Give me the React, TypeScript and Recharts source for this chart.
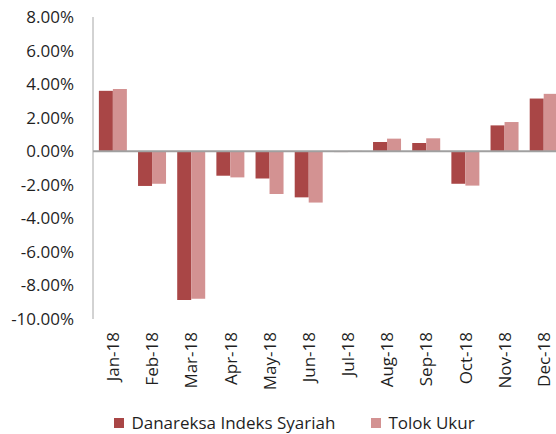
import { BarChart, Bar, XAxis, YAxis, Legend, ReferenceLine } from "recharts";

const months = ["Jan-18", "Feb-18", "Mar-18", "Apr-18", "May-18", "Jun-18", "Jul-18", "Aug-18", "Sep-18", "Oct-18", "Nov-18", "Dec-18"];
const danareksa = [3.6, -2.07, -8.87, -1.46, -1.62, -2.75, -0.05, 0.55, 0.49, -1.94, 1.54, 3.14];
const tolokUkur = [3.71, -1.94, -8.79, -1.56, -2.55, -3.06, 0.02, 0.75, 0.77, -2.05, 1.74, 3.42];
const yTicks = [-10, -8, -6, -4, -2, 0, 2, 4, 6, 8];

const data = months.map((m, i) => ({
  month: m,
  danareksa: danareksa[i],
  tolok: tolokUkur[i]
}));

const FONT = "'Open Sans', sans-serif";
const FS = 17;
const TEXT = "#1f1f1f";
const DARK = "#A94646";
const LIGHT = "#D39292";

function MonthTick(props: any) {
  const { x, y, payload } = props;
  const ty = y + 11;
  return (
    <text
      x={x}
      y={ty}
      transform={`rotate(-90 ${x} ${ty})`}
      textAnchor="end"
      dominantBaseline="central"
      fontSize={FS}
      fontFamily={FONT}
      fill={TEXT}
    >
      {payload.value}
    </text>
  );
}

function LegendBox() {
  const items = [
    { label: "Danareksa Indeks Syariah", color: DARK },
    { label: "Tolok Ukur", color: LIGHT }
  ];
  return (
    <div style={{ display: "flex", justifyContent: "center", fontFamily: FONT, fontSize: FS, color: TEXT, paddingLeft: 18, lineHeight: "22px" }}>
      {items.map((it, i) => (
        <div key={i} style={{ display: "flex", alignItems: "center", marginRight: i === 0 ? 36 : 0 }}>
          <span style={{ width: 10, height: 10, background: it.color, display: "inline-block", marginRight: 7 }} />
          <span>{it.label}</span>
        </div>
      ))}
    </div>
  );
}

export default function App() {
  return (
    <div style={{ width: 556, height: 434, overflow: "hidden", boxSizing: "border-box", paddingLeft: 8 }}>
      <style>{"body{margin:0}"}</style>
      <BarChart
        width={560}
        height={434}
        data={data}
        margin={{ top: 17, right: 5, left: 0, bottom: 0 }}
        barCategoryGap="15%"
        barGap={0}
      >
        <YAxis
          width={85}
          domain={[-10, 8]}
          ticks={yTicks}
          interval={0}
          tickFormatter={(v: number) => v.toFixed(2) + "%"}
          tickLine={false}
          tickSize={0}
          tickMargin={19}
          axisLine={{ stroke: "#a6a6a6", strokeWidth: 1 }}
          tick={{ fontSize: FS, fontFamily: FONT, fill: TEXT }}
        />
        <XAxis
          dataKey="month"
          height={93}
          interval={0}
          axisLine={false}
          tickLine={false}
          tickSize={0}
          tick={<MonthTick />}
        />
        <ReferenceLine y={0} stroke="#a0a0a0" strokeWidth={2} />
        <Bar dataKey="danareksa" name="Danareksa Indeks Syariah" fill={DARK} isAnimationActive={false} />
        <Bar dataKey="tolok" name="Tolok Ukur" fill={LIGHT} isAnimationActive={false} />
        <Legend verticalAlign="bottom" content={<LegendBox />} wrapperStyle={{ bottom: 0 }} />
      </BarChart>
    </div>
  );
}
